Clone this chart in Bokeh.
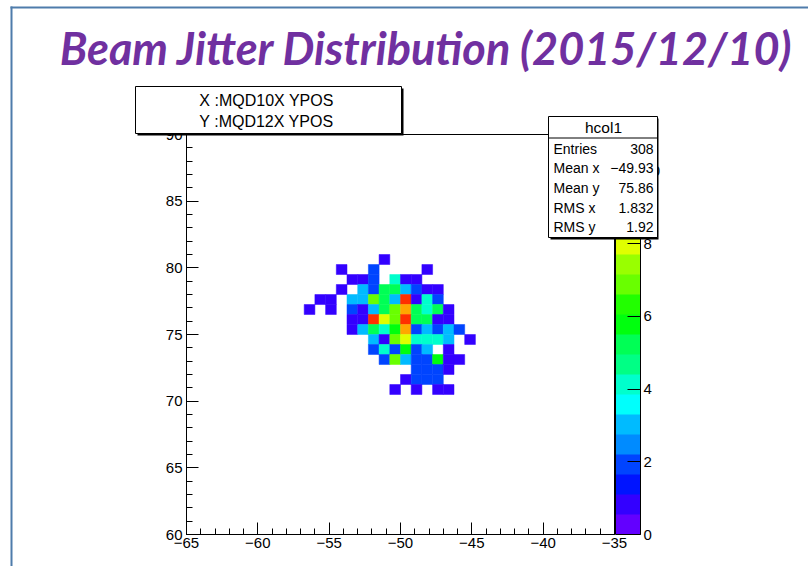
import colorsys

from bokeh.core.properties import value
from bokeh.embed import file_html
from bokeh.layouts import column
from bokeh.models import ColorBar, ColumnDataSource, FixedTicker, LinearColorMapper, Range1d
from bokeh.plotting import figure
from bokeh.resources import INLINE

# ---- histogram hcol1: 0.75 x 0.75 bins on [-65,-35] x [60,90] ----
x_centers = [-56.375, -55.625, -54.875, -54.125, -53.375, -52.625, -51.875, -51.125,
             -50.375, -49.625, -48.875, -48.125, -47.375, -46.625, -45.875, -45.125]
y_centers = [80.625, 79.875, 79.125, 78.375, 77.625, 76.875, 76.125,
             75.375, 74.625, 73.875, 73.125, 72.375, 71.625, 70.875]
# one row per y bin (top to bottom), one entry per x bin
counts = [
    [0, 0, 0, 0, 0, 0, 0, 1, 0, 0, 0, 0, 0, 0, 0, 0],
    [0, 0, 0, 1, 0, 0, 2, 0, 0, 0, 0, 1, 0, 0, 0, 0],
    [0, 0, 0, 0, 1, 1, 2, 0, 4, 1, 1, 0, 0, 0, 0, 0],
    [0, 0, 0, 1, 0, 3, 2, 5, 5, 3, 2, 1, 1, 0, 0, 0],
    [0, 1, 1, 0, 3, 3, 7, 5, 3, 10, 1, 4, 2, 0, 0, 0],
    [1, 0, 1, 0, 2, 1, 3, 5, 7, 9, 5, 4, 5, 1, 0, 0],
    [0, 0, 0, 0, 1, 1, 10, 8, 7, 10, 5, 5, 1, 1, 0, 0],
    [0, 0, 0, 0, 1, 3, 5, 4, 6, 9, 2, 3, 2, 3, 2, 0],
    [0, 0, 0, 0, 0, 0, 3, 1, 7, 8, 4, 4, 4, 3, 0, 1],
    [0, 0, 0, 0, 0, 0, 2, 4, 2, 6, 2, 3, 0, 1, 0, 0],
    [0, 0, 0, 0, 0, 0, 0, 2, 7, 3, 2, 2, 6, 1, 1, 0],
    [0, 0, 0, 0, 0, 0, 0, 0, 0, 0, 2, 2, 2, 1, 0, 0],
    [0, 0, 0, 0, 0, 0, 0, 0, 0, 1, 2, 2, 2, 0, 0, 0],
    [0, 0, 0, 0, 0, 0, 0, 0, 1, 0, 1, 0, 1, 1, 0, 0],
]
bin_size = 0.75

x_ticks = [-65, -60, -55, -50, -45, -40, -35]
x_tick_labels = ["\u221265", "\u221260", "\u221255", "\u221250", "\u221245", "\u221240", "\u221235"]
y_ticks = [60, 65, 70, 75, 80, 85, 90]
z_ticks = [0, 2, 4, 6, 8, 10]
z_max = 11

stat_title = "hcol1"
stat_names = ["Entries", "Mean x", "Mean y", "RMS x", "RMS y"]
stat_values = ["308", "\u221249.93", "75.86", "1.832", "1.92"]
axis_names = ["X :MQD10X YPOS", "Y :MQD12X YPOS"]
title_text = "Beam Jitter Distribution (2015/12/10)"

W, H = 808, 566
FL, FR, FT, FB = 186, 614, 134, 534   # histogram frame edges, pixels
XLO, XHI, YLO, YHI = -65, -35, 60, 90
FONT = "Liberation Sans"


def pretty_palette(n_levels=20, n_colors=50):
    """Violet -> red spectrum, sampled the way COLZ picks contour colours."""
    cols = []
    for j in range(n_levels):
        i = int((j + 0.99) * n_colors / n_levels)
        hue = 0.0 if i >= n_colors - 1 else 280.0 - (i + 1) * 280.0 / n_colors
        r, g, b = colorsys.hls_to_rgb(hue / 360.0, 0.5, 1.0)
        cols.append("#%02x%02x%02x" % (round(r * 255), round(g * 255), round(b * 255)))
    return cols


palette = pretty_palette()
mapper = LinearColorMapper(palette=palette, low=0, high=z_max)

xs, ys, zs = [], [], []
for row, yc in zip(counts, y_centers):
    for n, xc in zip(row, x_centers):
        if n > 0:
            xs.append(xc)
            ys.append(yc)
            zs.append(n)
src = ColumnDataSource(dict(x=xs, y=ys, n=zs))

# ---------------- histogram canvas ----------------
p = figure(width=W, height=H, output_backend="svg", toolbar_location=None,
           x_range=Range1d(XLO, XHI), y_range=Range1d(YLO, YHI),
           min_border_left=FL, min_border_right=W - FR,
           min_border_top=FT, min_border_bottom=H - FB)
p.frame_align = False
p.background_fill_color = "white"
p.border_fill_color = "white"
p.outline_line_color = "black"
p.outline_line_width = 1
p.xgrid.visible = False
p.ygrid.visible = False

p.rect(x="x", y="y", width=bin_size, height=bin_size, source=src,
       fill_color={"field": "n", "transform": mapper},
       line_color={"field": "n", "transform": mapper}, line_width=0.5)

for ax in (p.xaxis[0], p.yaxis[0]):
    ax.axis_line_color = "black"
    ax.major_tick_line_color = "black"
    ax.minor_tick_line_color = "black"
    ax.major_tick_in = 12
    ax.major_tick_out = 0
    ax.minor_tick_in = 6
    ax.minor_tick_out = 0
    ax.major_label_text_font = FONT
    ax.major_label_text_font_size = "15px"
    ax.major_label_text_color = "black"

p.xaxis.ticker = FixedTicker(ticks=x_ticks, minor_ticks=list(range(XLO, XHI + 1)))
p.xaxis.major_label_overrides = {t: s for t, s in zip(x_ticks, x_tick_labels)}
p.xaxis.major_label_standoff = 3
p.yaxis.ticker = FixedTicker(ticks=y_ticks, minor_ticks=list(range(YLO, YHI + 1)))
p.yaxis.major_label_standoff = 4

# colour palette to the right of the frame
cbar = ColorBar(color_mapper=mapper, location=(FR - FL + 1, 0), width=25,
                height=FB - FT, padding=0, margin=0,
                ticker=FixedTicker(ticks=z_ticks), major_tick_in=13, major_tick_out=0,
                major_tick_line_color="black", minor_tick_line_color=None,
                bar_line_color="black", border_line_color=None,
                background_fill_color=None, label_standoff=3,
                major_label_text_color="black",
                major_label_text_font=FONT, major_label_text_font_size="15px")
p.add_layout(cbar, "center")

# ---------------- page decorations (pixel coordinates) ----------------
deco = figure(width=W, height=H, output_backend="svg", toolbar_location=None,
              x_range=Range1d(0, W), y_range=Range1d(H, 0),
              x_axis_type=None, y_axis_type=None,
              min_border_left=0, min_border_right=0, min_border_top=0, min_border_bottom=0)
deco.frame_align = False
deco.background_fill_alpha = 0
deco.border_fill_alpha = 0
deco.outline_line_color = None
deco.styles = {"position": "absolute", "left": "0px", "top": "0px"}

# slide border
deco.quad(left=[10, 10], right=[W + 2, 12], top=[6, 6], bottom=[8, H + 2],
          fill_color="#4f7cab", line_color=None)

# slide title
deco.text(x=[426], y=[47], text=[title_text], text_align="center",
          text_baseline="alphabetic", text_font=value("Lato"),
          text_font_style="bold italic", text_font_size=value("45px"),
          text_color="#7030a0")

# axis description box (with drop shadow)
deco.quad(left=[137], right=[403], top=[88], bottom=[135], fill_color="black", line_color=None)
deco.quad(left=[135], right=[401], top=[86], bottom=[133], fill_color="white",
          line_color="black", line_width=1)
deco.text(x=[266, 266], y=[100, 121], text=axis_names, text_align="center",
          text_baseline="middle", text_font=value(FONT),
          text_font_size=value("16px"), text_color="black")

# statistics box (with drop shadow)
deco.quad(left=[550], right=[658], top=[118], bottom=[239], fill_color="black", line_color=None)
deco.quad(left=[548], right=[657], top=[116], bottom=[237], fill_color="white",
          line_color="black", line_width=1)
deco.segment(x0=[548], y0=[137.5], x1=[657], y1=[137.5], line_color="black", line_width=1)
deco.text(x=[603], y=[127], text=[stat_title], text_align="center",
          text_baseline="middle", text_font=value(FONT),
          text_font_size=value("15.5px"), text_color="black")
row_y = [148 + k * 19.7 for k in range(len(stat_names))]
deco.text(x=[553] * len(stat_names), y=row_y, text=stat_names, text_align="left",
          text_baseline="middle", text_font=value(FONT),
          text_font_size=value("14px"), text_color="black")
deco.text(x=[653] * len(stat_values), y=row_y, text=stat_values, text_align="right",
          text_baseline="middle", text_font=value(FONT),
          text_font_size=value("14px"), text_color="black")

page = column(p, deco)
open("out.html", "w").write(file_html(page, INLINE))
